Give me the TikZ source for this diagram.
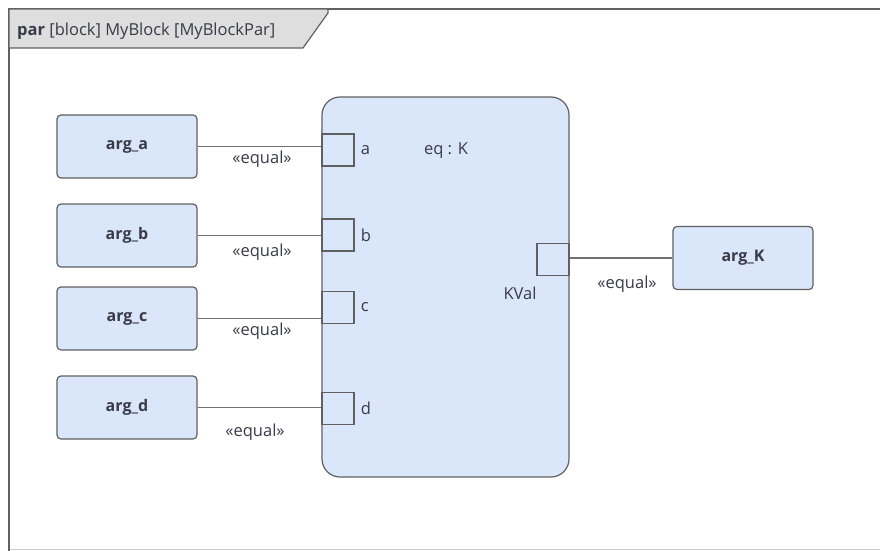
\documentclass[tikz,border=0pt]{standalone}
\usepackage{fontspec}
\setmainfont{Open Sans}
\usetikzlibrary{positioning}
\definecolor{blockfill}{HTML}{DAE7FA}
\definecolor{blockline}{HTML}{606060}
\definecolor{labeltext}{HTML}{3A3A48}
\definecolor{tabfill}{HTML}{DEDEDE}
\tikzset{
  argbox/.style={draw=blockline, fill=blockfill, line width=1.2pt, rounded corners=4pt,
    minimum width=140pt, minimum height=63pt, inner sep=0pt,
    font=\fontsize{16}{19}\selectfont\bfseries, text=labeltext},
  portbox/.style={draw=blockline, fill=blockfill, line width=1.2pt,
    minimum width=32pt, minimum height=32pt, inner sep=0pt},
  conn/.style={draw=blockline!90, line width=1.1pt},
  txt/.style={inner sep=0pt, font=\fontsize{16.5}{19}\selectfont, text=labeltext}
}
\begin{document}
\begin{tikzpicture}[x=1pt,y=-1pt]
\useasboundingbox (0,0) rectangle (880,551);
% frame
\draw [color=black!20, line width=1pt] (9,549) -- (880,549);
\draw [color=blockline, line width=1.6pt] (9,551) -- (9,9) -- (880,9);
\draw [fill=tabfill, draw=blockline, line width=1.2pt] (9,9) -- (328,9) -- (328,13) -- (303,48) -- (9,48) -- cycle;
\node [txt, anchor=west] (title) at (17,31) {\textbf{par} [block] MyBlock [MyBlockPar]};

% constraint block
\node [draw=blockline, fill=blockfill, line width=1.2pt, rounded corners=18pt,
  minimum width=247pt, minimum height=380pt, inner sep=0pt] (eqK) at (445.5,287) {};
\node [txt] (eqKname) at (446,151) {eq : K};

% ports
\node [portbox] (pa) at (338,150) {};
\node [portbox] (pb) at (338,235) {};
\node [portbox] (pc) at (338,307.5) {};
\node [portbox] (pd) at (338,408.5) {};
\node [portbox] (pK) at (553,259.5) {};
\node [txt, right=6pt of pa] (la) {a};
\node [txt, right=6pt of pb] (lb) {b};
\node [txt, right=6pt of pc] (lc) {c};
\node [txt, right=6pt of pd] (ld) {d};
\node [txt] (lK) at (520,293) {KVal};

% arguments
\node [argbox] (arg_a) at (127,146.5) {arg\_a};
\node [argbox] (arg_b) at (127,235.5) {arg\_b};
\node [argbox] (arg_c) at (127,318.5) {arg\_c};
\node [argbox] (arg_d) at (127,407.5) {arg\_d};
\node [argbox] (arg_K) at (743,258) {arg\_K};

% bindings
\draw [conn] (arg_a.east) -- (arg_a.east -| pa.west);
\draw [conn] (arg_b.east) -- (arg_b.east -| pb.west);
\draw [conn] (arg_c.east) -- (arg_c.east -| pc.west);
\draw [conn] (arg_d.east) -- (arg_d.east -| pd.west);
\draw [conn] (pK.east |- arg_K.west) -- (arg_K.west);

\node [txt] (eqa) at (262,159) {«equal»};
\node [txt] (eqb) at (262,252) {«equal»};
\node [txt] (eqc) at (262,331) {«equal»};
\node [txt] (eqd) at (255,432) {«equal»};
\node [txt] (eqk) at (627,284) {«equal»};
\end{tikzpicture}
\end{document}
